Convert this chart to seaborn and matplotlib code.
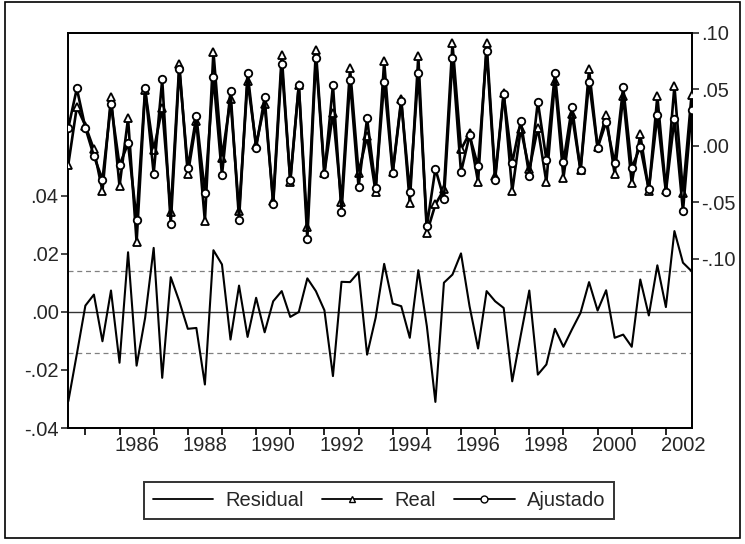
import numpy as np
import pandas as pd
import matplotlib
matplotlib.use("Agg")
import matplotlib.pyplot as plt
from matplotlib.lines import Line2D
from matplotlib.patches import Rectangle
import seaborn as sns

# ---- data (quarterly, 1984Q3 .. 2002Q4) ----
start_year = 1984.5
real = [-0.0167, 0.0344, 0.0177, -0.0034, -0.0403, 0.0433, -0.0359, 0.0241, -0.0855, 0.0491,
        -0.0043, 0.0335, -0.0589, 0.0719, -0.0255, 0.0217, -0.0669, 0.0832, -0.0108, 0.0409,
        -0.0580, 0.0571, 0.0010, 0.0365, -0.0492, 0.0802, -0.0323, 0.0536, -0.0719, 0.0846,
        -0.0244, 0.0291, -0.0501, 0.0684, -0.0240, 0.0084, -0.0412, 0.0748, -0.0231, 0.0409,
        -0.0506, 0.0793, -0.0772, -0.0521, -0.0388, 0.0905, -0.0034, 0.0110, -0.0323, 0.0905,
        -0.0270, 0.0468, -0.0403, 0.0150, -0.0211, 0.0158, -0.0323, 0.0571, -0.0285, 0.0276,
        -0.0220, 0.0675, -0.0015, 0.0270, -0.0255, 0.0438, -0.0335, 0.0099, -0.0400, 0.0438,
        -0.0390, 0.0527, -0.0418, 0.0444]
ajustado = [0.0158, 0.0506, 0.0158, -0.0093, -0.0300, 0.0365, -0.0173, 0.0019, -0.0654, 0.0506,
            -0.0247, 0.0586, -0.0698, 0.0681, -0.0196, 0.0261, -0.0418, 0.0610, -0.0262, 0.0483,
            -0.0654, 0.0646, -0.0019, 0.0429, -0.0521, 0.0719, -0.0306, 0.0536, -0.0825, 0.0778,
            -0.0250, 0.0536, -0.0589, 0.0580, -0.0364, 0.0241, -0.0373, 0.0566, -0.0243, 0.0394,
            -0.0412, 0.0646, -0.0714, -0.0205, -0.0471, 0.0778, -0.0235, 0.0090, -0.0182, 0.0837,
            -0.0300, 0.0453, -0.0152, 0.0220, -0.0270, 0.0389, -0.0123, 0.0639, -0.0146, 0.0344,
            -0.0217, 0.0566, -0.0019, 0.0208, -0.0158, 0.0518, -0.0196, -0.0010, -0.0388, 0.0267,
            -0.0409, 0.0238, -0.0580, 0.0314]
residual = [-0.0308, -0.0145, 0.0022, 0.0060, -0.0101, 0.0074, -0.0175, 0.0206, -0.0185, -0.0020,
            0.0221, -0.0227, 0.0120, 0.0037, -0.0058, -0.0055, -0.0250, 0.0213, 0.0164, -0.0095,
            0.0091, -0.0086, 0.0049, -0.0070, 0.0037, 0.0072, -0.0017, 0.0000, 0.0116, 0.0072,
            0.0006, -0.0221, 0.0104, 0.0103, 0.0137, -0.0147, -0.0020, 0.0166, 0.0029, 0.0020,
            -0.0089, 0.0144, -0.0049, -0.0310, 0.0101, 0.0129, 0.0202, 0.0020, -0.0126, 0.0072,
            0.0037, 0.0014, -0.0239, -0.0080, 0.0074, -0.0216, -0.0181, -0.0058, -0.0120, -0.0060,
            -0.0003, 0.0103, 0.0005, 0.0075, -0.0089, -0.0078, -0.0120, 0.0112, -0.0012, 0.0161,
            0.0017, 0.0279, 0.0170, 0.0141]
std_err = 0.0142
year_ticks = list(range(1985, 2003))
year_labels = [str(y) for y in range(1986, 2003, 2)]
left_ticks = [-0.04, -0.02, 0.00, 0.02, 0.04]
right_ticks = [-0.10, -0.05, 0.00, 0.05, 0.10]
legend_labels = ["Residual", "Real", "Ajustado"]

t = start_year + 0.25 * np.arange(len(real))
df = pd.DataFrame({"t": t, "Real": real, "Ajustado": ajustado, "Residual": residual})

sns.set_style("ticks")
plt.rcParams["font.family"] = ["Liberation Sans", "DejaVu Sans"]
FS = 14.5

W, H = 745, 544
fig = plt.figure(figsize=(W / 100, H / 100), dpi=100)
L, R, T, B = 68.3, 691.5, 32.7, 428.0
ax = fig.add_axes([L / W, (H - B) / H, (R - L) / W, (B - T) / H])
ax2 = ax.twinx()

def fmt(v):
    s = f"{v:.2f}"
    return s.replace("0.", ".", 1)

# residual panel (left axis)
ax.axhline(0, color="#333333", lw=1.0, zorder=1)
ax.axhline(std_err, color="#808080", lw=0.9, ls=(0, (4, 3)), zorder=1)
ax.axhline(-std_err, color="#808080", lw=0.9, ls=(0, (4, 3)), zorder=1)
sns.lineplot(data=df, x="t", y="Residual", ax=ax, color="black", lw=1.5, zorder=3)

# actual / fitted (right axis)
sns.lineplot(data=df, x="t", y="Real", ax=ax2, color="black", lw=1.9,
             marker="^", markersize=6, markerfacecolor="white",
             markeredgecolor="black", markeredgewidth=1.3, zorder=3)
sns.lineplot(data=df, x="t", y="Ajustado", ax=ax2, color="black", lw=1.9,
             marker="o", markersize=5.4, markerfacecolor="white",
             markeredgecolor="black", markeredgewidth=1.3, zorder=4)

ax.set_xlim(start_year, 2002.75)
ax.set_ylim(-0.04, 0.0963)
ax2.set_ylim(-0.25, 0.10)
for a in (ax, ax2):
    a.set_xlabel("")
    a.set_ylabel("")
    for sp in a.spines.values():
        sp.set_visible(True)
        sp.set_color("black")
        sp.set_linewidth(1.3)

ax.set_yticks(left_ticks, [fmt(v) for v in left_ticks])
ax2.set_yticks(right_ticks, [fmt(v) for v in right_ticks])
ax.set_xticks(year_ticks, [""] * len(year_ticks))
ax.set_xticks([int(s) + 0.5 for s in year_labels], year_labels, minor=True)
ax.tick_params(axis="x", which="major", direction="out", length=5, width=1.2, color="black")
ax.tick_params(axis="x", which="minor", length=0, pad=6, labelsize=FS)
ax.tick_params(axis="y", direction="out", length=5, width=1.2, labelsize=FS, pad=2)
ax2.tick_params(axis="y", direction="out", length=5, width=1.2, labelsize=FS, pad=2)

# legend
handles = [
    Line2D([], [], color="black", lw=1.3),
    Line2D([], [], color="black", lw=1.3, marker="^", markersize=5,
           markerfacecolor="white", markeredgecolor="black"),
    Line2D([], [], color="black", lw=1.3, marker="o", markersize=5,
           markerfacecolor="white", markeredgecolor="black"),
]
leg = fig.legend(handles, legend_labels, loc="center", bbox_to_anchor=(379 / W, 1 - 500.8 / H),
                 ncol=3, frameon=True, fancybox=False, fontsize=FS, handlelength=3.0,
                 handletextpad=0.6, columnspacing=0.9, borderpad=0.45, borderaxespad=0,
                 edgecolor="black")
leg.get_frame().set_linewidth(1.4)

# outer frame
fig.patches.append(Rectangle((5 / W, 6 / H), 735 / W, (H - 8) / H, transform=fig.transFigure,
                             fill=False, edgecolor="black", lw=1.2))

fig.savefig("out.png", dpi=100)
